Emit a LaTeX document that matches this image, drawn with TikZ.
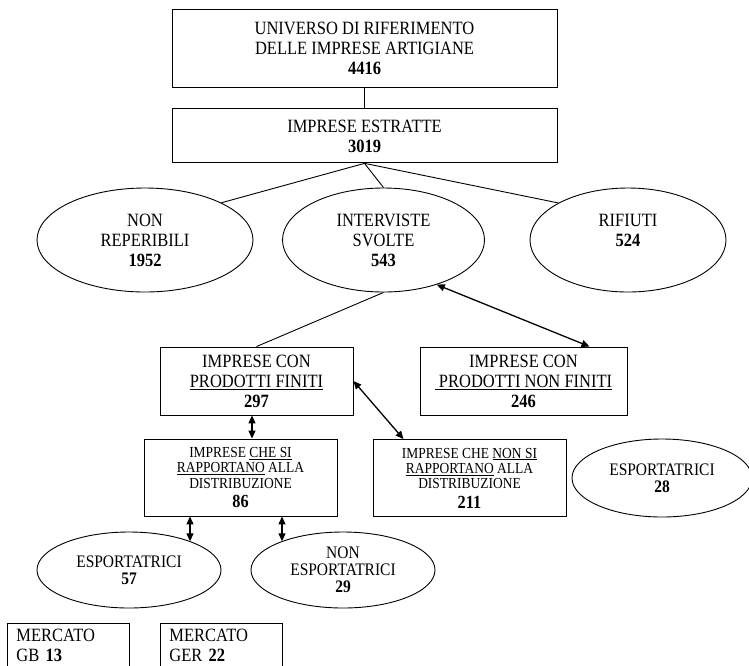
\documentclass[tikz,border=0pt]{standalone}
\usepackage{fontspec}
\setmainfont{Liberation Serif}[FakeStretch=0.88]
\usepackage{tikz}
\usetikzlibrary{arrows.meta,positioning,shapes.geometric}
\newcommand{\cifra}[1]{{\fontsize{18.5}{20}\selectfont\textbf{#1}}}

\begin{document}
\begin{tikzpicture}[x=1pt,y=-1pt,
  every node/.style={font=\fontsize{18.75}{20}\selectfont,align=center,inner sep=0pt},
  box/.style={draw,line width=0.9pt,minimum width=193pt,minimum height=68pt},
  oval/.style={ellipse,draw,line width=0.9pt,minimum width=184pt,minimum height=76pt},
  mkt/.style={draw,line width=0.9pt,minimum width=122pt,minimum height=44pt,text width=104pt,align=left,anchor=north west},
  smalltxt/.style={font=\fontsize{15.3}{15.3}\selectfont},
  midtxt/.style={font=\fontsize{17.6}{17}\selectfont},
  lnk/.style={line width=0.9pt},
  arr/.style={{Triangle[length=8pt,width=7pt]}-{Triangle[length=8pt,width=7pt]},line width=1.3pt}
]
\useasboundingbox (0,0) rectangle (749,665);
\node[box,minimum width=385pt,minimum height=78pt] (univ) at (364.5,48) {UNIVERSO DI RIFERIMENTO\\DELLE IMPRESE ARTIGIANE\\\textbf{4416}};
\node[box,minimum width=385pt,minimum height=54pt,below=21pt of univ] (estr) {IMPRESE ESTRATTE\\\textbf{3019}};
\node[oval,minimum width=216pt,minimum height=104pt] (nrep) at (145,240) {NON\\REPERIBILI\\\textbf{1952}};
\node[oval,minimum width=202pt,minimum height=104pt] (intv) at (383.5,240) {INTERVISTE\\SVOLTE\\\textbf{543}};
\node[oval,minimum width=196pt,minimum height=104pt] (rif) at (628,240) {RIFIUTI\\\textbf{524}\\\mbox{}};
\node[box] (pfin) at (256.5,381) {IMPRESE CON\\\underline{PRODOTTI FINITI}\\\textbf{297}};
\node[box,minimum width=207pt] (pnf) at (523.5,381) {IMPRESE CON\\\underline{\ PRODOTTI NON FINITI}\\\textbf{246}};
\node[box,smalltxt,minimum height=77pt] (csi) at (240.5,477.5) {IMPRESE \underline{CHE SI}\\\underline{RAPPORTANO} ALLA\\DISTRIBUZIONE\\[4pt]\cifra{86}};
\node[box,smalltxt,minimum height=77pt] (nsi) at (469.5,478) {IMPRESE CHE \underline{NON SI}\\\underline{RAPPORTANO} ALLA\\DISTRIBUZIONE\\[4pt]\cifra{211}};
\node[oval,midtxt,minimum width=180pt,minimum height=78pt] (esp28) at (662,478) {ESPORTATRICI\\\textbf{28}};
\node[oval,midtxt] (esp57) at (129,570) {ESPORTATRICI\\\textbf{57}};
\node[oval,midtxt] (nesp) at (343,570) {NON\\ESPORTATRICI\\\textbf{29}};
\node[mkt] (mgb) at (7,623) {MERCATO\\GB \textbf{13}};
\node[mkt] (mger) at (160,623) {MERCATO\\GER \textbf{22}};
\coordinate (a57) at ([xshift=-50.5pt]csi.south);
\coordinate (a29) at ([xshift=41.5pt]csi.south);
\draw[lnk] (univ) -- (estr);
\draw[lnk] (estr.south) -- (nrep.26); \draw[lnk] (estr.south) -- (intv.north); \draw[lnk] (estr.south) -- (rif.152);
\draw[lnk] (intv.south) -- (pfin.north);
\draw[arr] (intv.-40) -- ([xshift=66pt]pnf.north);
\draw[arr] (pfin.east) -- ([xshift=-66pt]nsi.north);
\draw[arr] ([xshift=-4.5pt]pfin.south) -- ([xshift=11.5pt]csi.north);
\draw[arr] (a57) -- (a57 |- esp57.25); \draw[arr] (a29) -- (a29 |- nesp.155);
\end{tikzpicture}
\end{document}
